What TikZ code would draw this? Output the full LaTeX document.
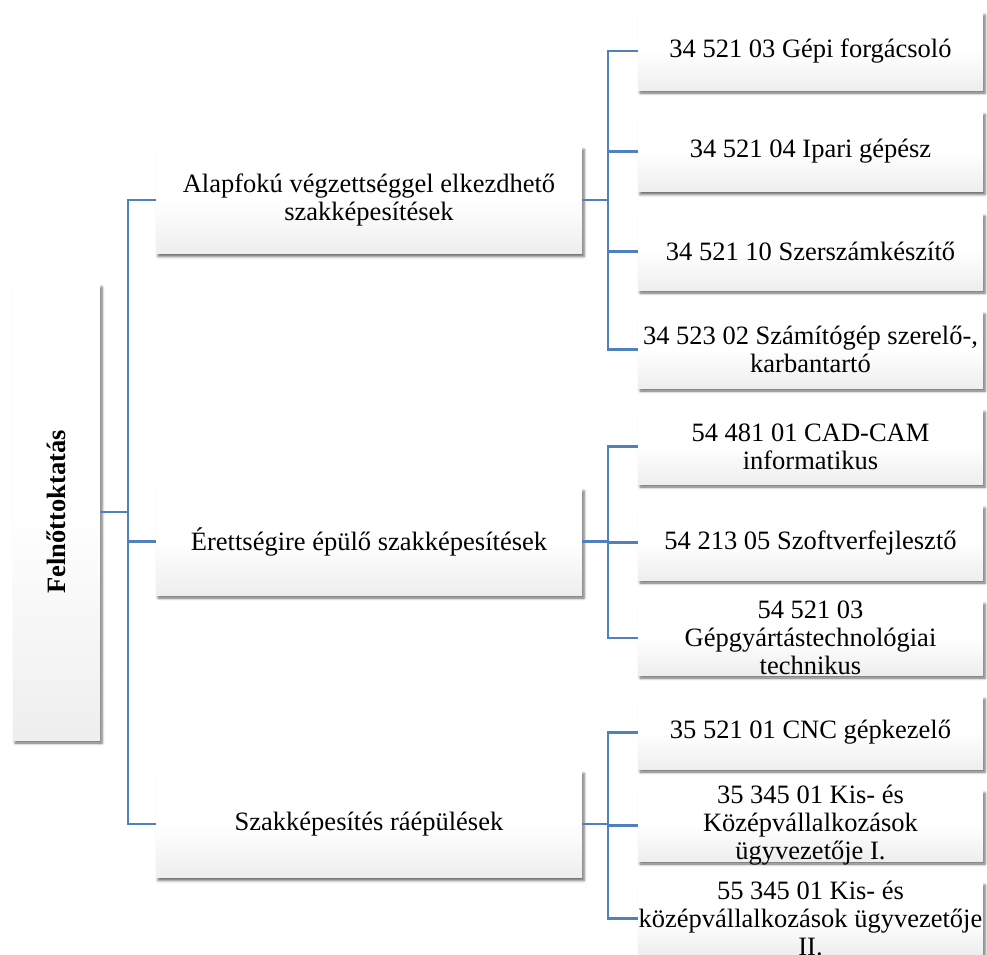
\documentclass[tikz,border=0pt]{standalone}
\usepackage{fontspec}
\setmainfont{Liberation Serif}
\usetikzlibrary{shadows.blur}
\definecolor{linkblue}{HTML}{4F81BD}
\pgfdeclareverticalshading{boxshade}{100bp}{color(0bp)=(black!14); color(20bp)=(black!8); color(50bp)=(white); color(100bp)=(white)}
\tikzset{
  box/.style={draw=none, inner sep=0pt, shading=boxshade,
    blur shadow={shadow xshift=2pt, shadow yshift=-3pt, shadow blur radius=2.5pt, shadow opacity=60}},
  lvl1/.style={box, minimum width=426pt, minimum height=107pt},
  lvl2/.style={box, minimum width=345pt},
  txt/.style={inner sep=0pt, align=center, text=black, font=\fontsize{26.5}{28}\selectfont},
  link/.style={draw=linkblue, line width=2.6pt},
}
\begin{document}
\begin{tikzpicture}[x=1pt, y=-1pt]
\useasboundingbox (0,0) rectangle (987,954);
% root
\node[box, minimum width=87pt, minimum height=456pt] (root) at (56.5,512) {};
\node[txt, rotate=90, font=\fontsize{26.5}{28}\selectfont\bfseries] (roottxt) at (root.center) {Felnőttoktatás};
% level 1
\node[lvl1] (a) at (369,200) {};
\node[txt] (atxt) at (a.center) {Alapfokú végzettséggel elkezdhető\\szakképesítések};
\node[lvl1] (b) at (369,541.5) {};
\node[txt] (btxt) at (b.center) {Érettségire épülő szakképesítések};
\node[lvl1] (c) at (369,824) {};
\node[txt] (ctxt) at (c.center) {Szakképesítés ráépülések};
% level 2
\node[lvl2, minimum height=78pt] (a1) at (810.5,51) {};
\node[txt] (a1txt) at (a1.center) {34 521 03 Gépi forgácsoló};
\node[lvl2, minimum height=80pt] (a2) at (810.5,151.5) {};
\node[txt] (a2txt) at (a2.center) {34 521 04 Ipari gépész};
\node[lvl2, minimum height=77pt] (a3) at (810.5,251.5) {};
\node[txt] (a3txt) at (a3.center) {34 521 10 Szerszámkészítő};
\node[lvl2, minimum height=77pt] (a4) at (810.5,349.5) {};
\node[txt] (a4txt) at (a4.center) {34 523 02 Számítógép szerelő-,\\karbantartó};
\node[lvl2, minimum height=75pt] (b1) at (810.5,446.5) {};
\node[txt] (b1txt) at (b1.center) {54 481 01 CAD-CAM\\informatikus};
\node[lvl2, minimum height=75pt] (b2) at (810.5,542.5) {};
\node[txt] (b2txt) at (b2.center) {54 213 05 Szoftverfejlesztő};
\node[lvl2, minimum height=74pt] (b3) at (810.5,638) {};
\node[txt] (b3txt) at (b3.center) {54 521 03\\Gépgyártástechnológiai\\technikus};
\node[lvl2, minimum height=73pt] (c1) at (810.5,732.5) {};
\node[txt] (c1txt) at (c1.center) {35 521 01 CNC gépkezelő};
\node[lvl2, minimum height=71pt] (c2) at (810.5,825.5) {};
\node[txt] (c2txt) at (c2.center) {35 345 01 Kis- és\\Középvállalkozások\\ügyvezetője I.};
\node[lvl2, minimum height=73pt] (c3) at (810.5,918.5) {};
\node[txt] (c3txt) at (c3.center) {55 345 01 Kis- és\\középvállalkozások ügyvezetője\\II.};
% connectors
\coordinate (t) at (128,512);
\draw[link] (root.east) -- (t);
\draw[link] (t) |- (a.west);
\draw[link] (t) |- (b.west);
\draw[link] (t) |- (c.west);
\coordinate (ta) at (608,200);
\draw[link] (a.east) -- (ta);
\foreach \n in {a1,a2,a3,a4} \draw[link] (ta) |- (\n.west);
\coordinate (tb) at (608,541.5);
\draw[link] (b.east) -- (tb);
\foreach \n in {b1,b2,b3} \draw[link] (tb) |- (\n.west);
\coordinate (tc) at (608,824);
\draw[link] (c.east) -- (tc);
\foreach \n in {c1,c2,c3} \draw[link] (tc) |- (\n.west);
\end{tikzpicture}
\end{document}
